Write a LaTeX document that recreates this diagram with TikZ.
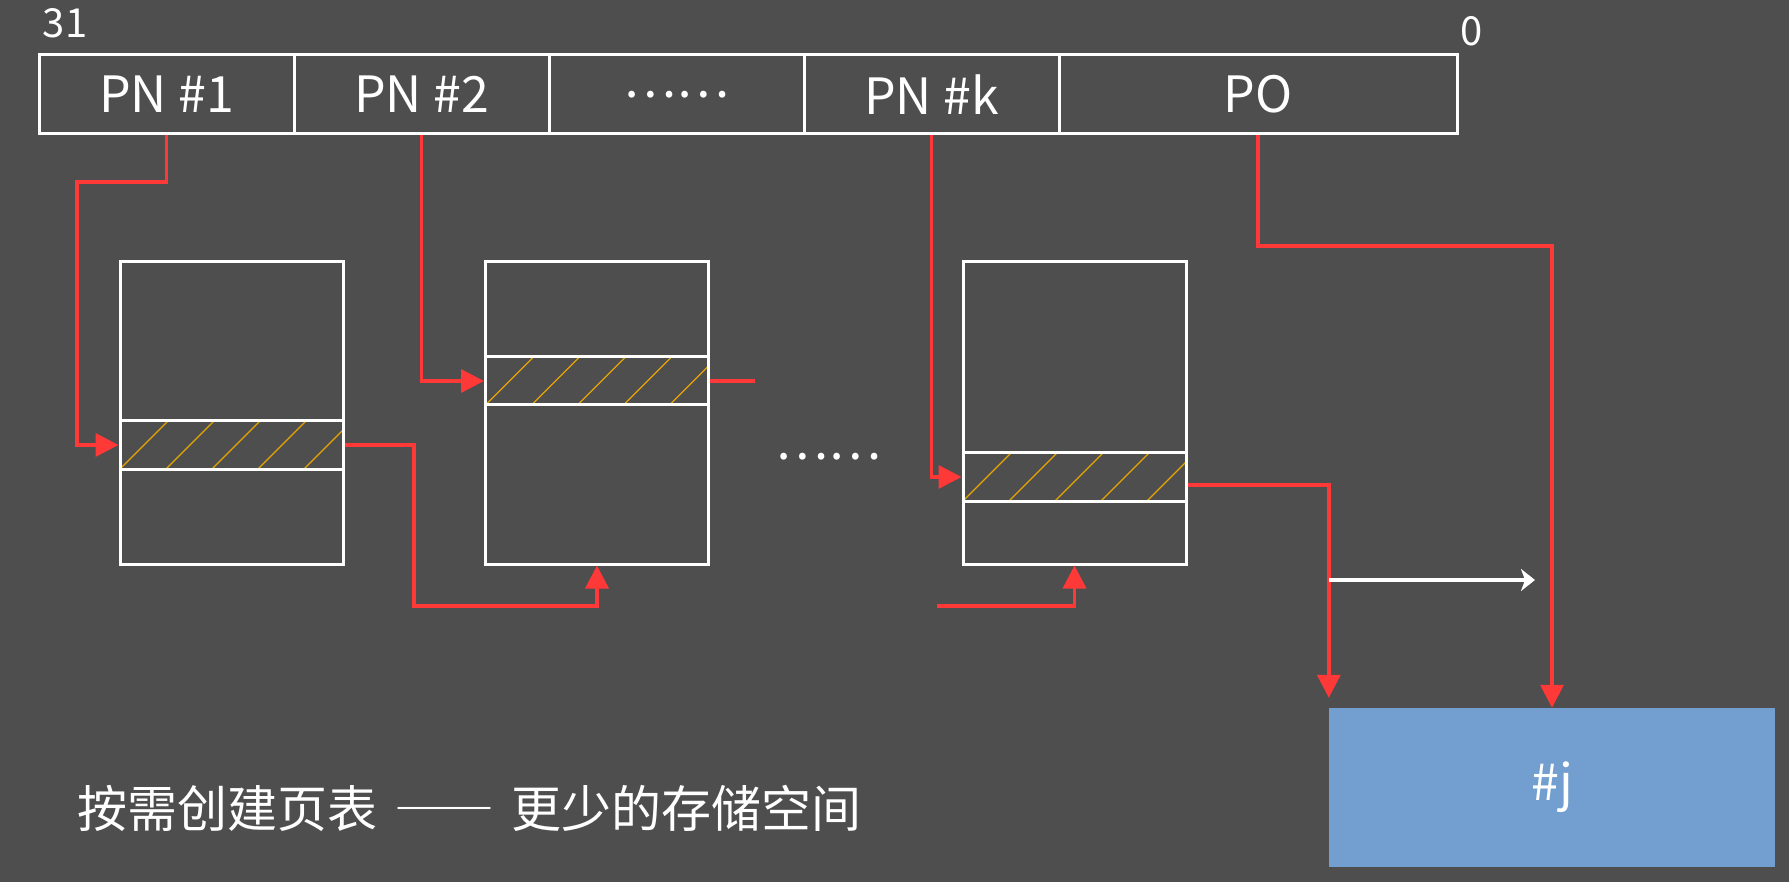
\documentclass[tikz,border=0pt]{standalone}
\usepackage{fontspec}
\setmainfont{Noto Sans CJK SC}
\usetikzlibrary{arrows.meta,calc}
\definecolor{bg}{RGB}{78,78,78}
\definecolor{redl}{RGB}{255,56,56}
\definecolor{blueb}{RGB}{114,159,207}
\definecolor{hatchc}{RGB}{230,165,0}
\newcommand\fwdash{{\addfontfeature{RawFeature=+fwid}——}}
\tikzset{
  cell/.style={draw=white, line width=3pt, minimum height=79pt, inner sep=0pt,
    text=white, font=\fontsize{50}{60}\selectfont},
  pbox/.style={draw=white, line width=3pt, minimum width=223pt, inner sep=0pt},
  hrow/.style={pbox, minimum height=48pt,
    path picture={\foreach \k in {0,...,5}{\draw[hatchc, line width=1.2pt]
      ([xshift=\k*46pt]path picture bounding box.south west) -- ++(60,-60);}}},
  link/.style={draw=redl, line width=3.5pt},
  linkarrow/.style={link, -{Triangle[length=23pt,width=23pt]}},
  lbl/.style={text=white, inner sep=0pt},
  bigfont/.style={font=\fontsize{50}{60}\selectfont},
}
\begin{document}
\begin{tikzpicture}[x=1pt,y=-1pt]
\fill[bg] (0,0) rectangle (1789,882);
\useasboundingbox (0,0) rectangle (1789,882);

% register
\node[cell, minimum width=255pt] (pn1) at (166.5,94.5) {PN \#1};
\node[cell, minimum width=255pt] (pn2) at (421.5,94.5) {PN \#2};
\node[cell, minimum width=255pt] (pnd) at (676.5,94.5) {……};
\node[cell, minimum width=255pt] (pnk) at (931.5,94.5) {PN \#k};
\node[cell, minimum width=398pt] (po) at (1258,94.5) {PO};
\node[lbl, font=\fontsize{40}{46}\selectfont] (hi) at (65,23) {31};
\node[lbl, font=\fontsize{40}{46}\selectfont] (lo) at (1472,31) {0};

% page table 1
\node[pbox, minimum height=159pt] (t1) at (231.5,341.5) {};
\node[hrow] (r1) at (231.5,445) {};
\node[pbox, minimum height=95pt] (b1) at (231.5,516.5) {};
% page table 2
\node[pbox, minimum height=95pt] (t2) at (597,309.5) {};
\node[hrow] (r2) at (597,381) {};
\node[pbox, minimum height=159pt] (b2) at (597,484.5) {};
% page table k
\node[pbox, minimum height=191pt] (t3) at (1074.5,357.5) {};
\node[hrow] (r3) at (1074.5,477) {};
\node[pbox, minimum height=63pt] (b3) at (1074.5,532.5) {};

\node[lbl, bigfont] (mdots) at (828,457) {……};

% page
\node[fill=blueb, minimum width=446pt, minimum height=159pt, inner sep=0pt,
  text=white, bigfont] (pg) at (1552,787.5) {\#j};

\node[lbl, bigfont, anchor=west] (cap) at (77,808) {按需创建页表\hspace{17pt}\fwdash\hspace{17pt}更少的存储空间};

% connectors
\coordinate (c1) at (77,182);
\draw[linkarrow] (pn1.south) |- (c1) |- (r1.west);
\draw[linkarrow] (pn2.south) |- (r2.west);
\coordinate (c3) at (414,606);
\draw[linkarrow] (r1.east) -| (c3) -| (b2.south);
\coordinate (c4) at (755,381);
\draw[link] (r2.east) -- (c4);
\draw[linkarrow] (pnk.south) |- (r3.west);
\coordinate (c7) at (937,606);
\draw[linkarrow] (c7) -| (b3.south);
\draw[linkarrow] ([yshift=-8pt]r3.east) -| ([yshift=10pt]pg.north west);
\coordinate (c10) at (1552,246);
\draw[linkarrow] (po.south) |- (c10) -- (pg.north);
\coordinate (w1) at (1329,580);
\coordinate (w2) at (1535,580);
\draw[white, line width=4pt, -{Stealth[length=14pt,width=22pt,inset=4pt]}] (w1) -- (w2);
\end{tikzpicture}
\end{document}
